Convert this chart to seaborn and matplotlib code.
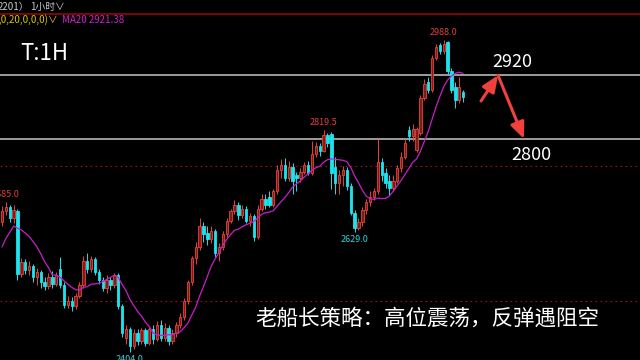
import numpy as np
import pandas as pd
import seaborn as sns
import matplotlib.pyplot as plt
from matplotlib.lines import Line2D

# hourly candles (each one here stands for ~2 bars)
opens = [2648, 2668, 2676, 2655, 2668, 2550, 2572, 2558, 2566, 2545,
         2555, 2535, 2528, 2545, 2532, 2560, 2530, 2492, 2500, 2490,
         2510, 2530, 2575, 2560, 2578, 2555, 2540, 2525, 2540, 2530,
         2548, 2490, 2430, 2448, 2415, 2440, 2425, 2445, 2422, 2448,
         2428, 2455, 2430, 2450, 2425, 2440, 2455, 2470, 2500, 2535,
         2580, 2600, 2640, 2628, 2615, 2630, 2590, 2600, 2625, 2650,
         2668, 2680, 2660, 2672, 2650, 2658, 2620, 2672, 2690, 2695,
         2680, 2705, 2745, 2755, 2730, 2750, 2735, 2730, 2742, 2755,
         2740, 2775, 2790, 2780, 2810, 2812, 2750, 2720, 2735, 2745,
         2715, 2665, 2636, 2648, 2670, 2685, 2695, 2705, 2760, 2740,
         2725, 2712, 2725, 2748, 2770, 2820, 2808, 2782, 2815, 2880,
         2910, 2895, 2955, 2978, 2968, 2985, 2930, 2900, 2875, 2890]
highs = [2678, 2685, 2680, 2680, 2672, 2580, 2578, 2575, 2570, 2562,
         2558, 2545, 2552, 2556, 2555, 2582, 2535, 2510, 2508, 2515,
         2535, 2585, 2590, 2585, 2582, 2560, 2545, 2548, 2545, 2552,
         2552, 2495, 2455, 2452, 2448, 2448, 2450, 2450, 2452, 2455,
         2462, 2465, 2458, 2455, 2448, 2460, 2478, 2505, 2540, 2585,
         2610, 2655, 2648, 2640, 2640, 2635, 2608, 2630, 2655, 2672,
         2688, 2685, 2680, 2678, 2665, 2662, 2680, 2700, 2700, 2705,
         2710, 2755, 2765, 2768, 2762, 2758, 2742, 2748, 2760, 2762,
         2800, 2798, 2795, 2819.5, 2815, 2816, 2770, 2745, 2752, 2750,
         2720, 2670, 2655, 2676, 2690, 2705, 2712, 2802, 2768, 2748,
         2735, 2735, 2755, 2778, 2802, 2828, 2830, 2825, 2885, 2915,
         2918, 2960, 2980, 2982, 2988, 2986, 2935, 2910, 2918, 2895]
lows = [2640, 2660, 2648, 2645, 2540, 2545, 2550, 2548, 2535, 2530,
        2525, 2520, 2522, 2525, 2528, 2525, 2486, 2486, 2482, 2485,
        2505, 2525, 2552, 2555, 2548, 2532, 2518, 2515, 2520, 2525,
        2485, 2432, 2420, 2404, 2410, 2418, 2420, 2415, 2418, 2420,
        2425, 2425, 2425, 2418, 2420, 2432, 2450, 2465, 2495, 2530,
        2570, 2595, 2610, 2605, 2608, 2582, 2575, 2595, 2620, 2645,
        2662, 2652, 2655, 2645, 2640, 2612, 2615, 2668, 2672, 2675,
        2675, 2700, 2730, 2725, 2725, 2700, 2705, 2722, 2738, 2735,
        2735, 2770, 2772, 2778, 2788, 2710, 2700, 2700, 2715, 2708,
        2660, 2629, 2632, 2640, 2662, 2678, 2688, 2700, 2725, 2712,
        2698, 2705, 2720, 2742, 2765, 2800, 2800, 2778, 2810, 2875,
        2888, 2890, 2950, 2962, 2962, 2925, 2888, 2860, 2870, 2872]
closes = [2668, 2676, 2655, 2670, 2550, 2572, 2558, 2566, 2545, 2555,
          2535, 2528, 2545, 2532, 2548, 2530, 2492, 2500, 2490, 2510,
          2530, 2575, 2560, 2578, 2555, 2540, 2525, 2540, 2530, 2548,
          2490, 2440, 2448, 2415, 2440, 2425, 2445, 2422, 2448, 2428,
          2455, 2430, 2450, 2425, 2440, 2455, 2470, 2500, 2535, 2580,
          2600, 2640, 2625, 2615, 2630, 2590, 2600, 2625, 2650, 2668,
          2680, 2660, 2672, 2650, 2658, 2620, 2672, 2690, 2680, 2680,
          2705, 2745, 2755, 2730, 2750, 2725, 2730, 2742, 2755, 2740,
          2775, 2790, 2780, 2810, 2795, 2740, 2720, 2735, 2745, 2715,
          2665, 2636, 2648, 2670, 2685, 2695, 2705, 2760, 2735, 2720,
          2712, 2725, 2748, 2770, 2795, 2808, 2822, 2822, 2880, 2905,
          2895, 2955, 2975, 2968, 2980, 2930, 2895, 2875, 2900, 2882]
# closes just left of the visible window, so the average starts correctly
prior_closes = [2520, 2535, 2555, 2590, 2605, 2615, 2630, 2640, 2652]

levels = [2922, 2803]
level_labels = ["2920", "2800"]
dotted_levels = [2752, 2500]
peak_idx = [1, 83, 114]
trough_idx = [33, 91]

sns.set_theme(style="dark", rc={"axes.facecolor": "black", "figure.facecolor": "black"})
plt.rcParams["font.family"] = ["Noto Sans CJK SC", "DejaVu Sans"]

df = pd.DataFrame({"open": opens, "high": highs, "low": lows, "close": closes})
df["idx"] = np.arange(len(df))
all_close = pd.Series(prior_closes + closes, dtype=float)
# MA20 of the hourly bars ~ 10 of these candles
df["ma"] = all_close.rolling(10).mean().iloc[len(prior_closes):].to_numpy()
up = df["close"] >= df["open"]

fig = plt.figure(figsize=(6.4, 3.6), dpi=100)
ax = fig.add_axes([0, 0, 1, 1])


def px_price(y):
    # screen row -> price (row 40 = 2988, 1.87 per pixel)
    return 2988 - (y - 40) * 1.87


def px_idx(x):
    return (x - 2) / 3.875


ax.set_ylim(px_price(360), px_price(0))
ax.set_xlim(px_idx(0), px_idx(640))

for lv in levels:
    ax.axhline(lv, color="#a9a9a9", lw=1.3, zorder=1)
for lv in dotted_levels:
    ax.axhline(lv, color="#a01414", lw=0.8, ls=(0, (1.5, 3)), zorder=1)

red_edge, red_face, cyan = "#e8433c", "#7d1c1a", "#1ce4ee"
for is_up, face, edge in [(True, red_face, red_edge), (False, cyan, cyan)]:
    d = df[up == is_up]
    ax.vlines(d["idx"], d["low"], d["high"], color=edge, lw=0.7, zorder=2)
    body = (d["close"] - d["open"]).abs().clip(lower=1.5)
    bottom = d[["open", "close"]].min(axis=1)
    ax.bar(d["idx"], body, bottom=bottom, width=0.62, color=face,
           edgecolor=edge, linewidth=0.6, zorder=3)

sns.lineplot(data=df, x="idx", y="ma", ax=ax, color="#c81ec8", lw=0.9, zorder=4)
ax.axis("off")

for i in peak_idx:
    ax.annotate(f"{highs[i]:.1f}", (i, highs[i]), xytext=(0, 2), textcoords="offset points",
                ha="center", va="bottom", color="#e0403a", fontsize=6.5)
for i in trough_idx:
    ax.annotate(f"{lows[i]:.1f}", (i, lows[i]), xytext=(0, -2), textcoords="offset points",
                ha="center", va="top", color="#27d3dc", fontsize=6.5)

# projected move: bounce to resistance, then down to support
tip = (px_idx(498), levels[0])
start = (px_idx(481), px_price(101))
end = (px_idx(524), levels[1])
arrow = dict(arrowstyle="-|>,head_length=0.7,head_width=0.3", color="#f0413b",
             lw=2.2, mutation_scale=14, shrinkA=0, shrinkB=0)
ax.annotate("", xy=tip, xytext=start, arrowprops=arrow)
ax.annotate("", xy=end, xytext=tip, arrowprops=arrow)

ax.text(px_idx(512), px_price(62), level_labels[0], color="white", fontsize=13,
        ha="center", va="center")
ax.text(px_idx(531), px_price(155), level_labels[1], color="white", fontsize=13,
        ha="center", va="center")

fig.text(20 / 640, 1 - 53 / 360, "T:1H", color="white", fontsize=16, ha="left", va="center")
fig.text(427 / 640, 1 - 319 / 360, "老船长策略：高位震荡，反弹遇阻空", color="white",
         fontsize=15.5, ha="center", va="center")

# header strip
fig.text(-0.004, 1 - 7 / 360, "2201）", color="#c8c8c8", fontsize=7, va="center")
fig.text(30 / 640, 1 - 7 / 360, "1小时∨", color="#c8c8c8", fontsize=7, va="center")
fig.add_artist(Line2D([0, 1], [1 - 14 / 360] * 2, color="#8c0a0a", lw=1.2))
fig.text(-0.002, 1 - 20 / 360, ",0,20,0,0,0)∨", color="#d8c800", fontsize=7, va="center")
fig.text(62 / 640, 1 - 20 / 360, "MA20 2921.38", color="#d020d0", fontsize=7, va="center")

fig.savefig("out.png", dpi=100, facecolor="black")
